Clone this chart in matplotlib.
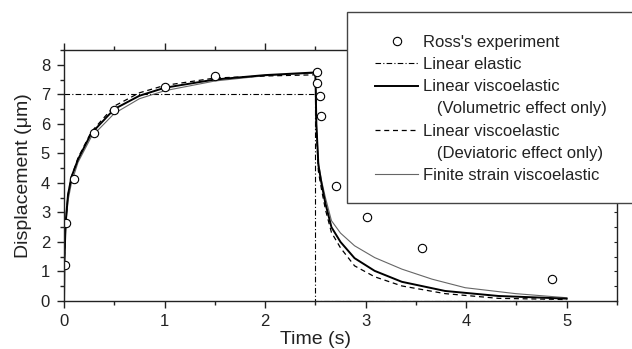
import matplotlib
matplotlib.use("Agg")
import matplotlib.pyplot as plt
from matplotlib.lines import Line2D
from matplotlib.patches import Rectangle
from matplotlib.ticker import MultipleLocator

plt.rcParams['font.family'] = ['Liberation Sans', 'DejaVu Sans']

# Ross's experiment
exp_t = [0.014, 0.02, 0.097, 0.297, 0.50, 1.0, 1.5, 2.52, 2.52, 2.55, 2.56, 2.71, 3.01, 3.56, 4.85]
exp_d = [1.21, 2.63, 4.14, 5.68, 6.46, 7.26, 7.63, 7.77, 7.37, 6.94, 6.26, 3.88, 2.83, 1.79, 0.76]

# Linear elastic
le_t = [0.0, 2.5, 2.5, 5.0]
le_d = [7.0, 7.0, 0.0, 0.0]

# Linear viscoelastic (volumetric effect only)
vol_t = [0.0, 0.005, 0.017, 0.04, 0.074, 0.14, 0.27, 0.5, 0.75, 1.0, 1.5, 2.0, 2.5,
         2.51, 2.53, 2.56, 2.6, 2.66, 2.75, 2.89, 3.09, 3.36, 3.79, 4.32, 5.0]
vol_d = [0.0, 1.5, 2.7, 3.6, 4.2, 4.8, 5.67, 6.5, 6.95, 7.22, 7.5, 7.65, 7.74,
         6.0, 4.6, 4.0, 3.3, 2.5, 2.0, 1.45, 1.02, 0.65, 0.34, 0.17, 0.08]

# Linear viscoelastic (deviatoric effect only)
dev_t = [0.0, 0.005, 0.017, 0.04, 0.074, 0.14, 0.27, 0.5, 0.75, 1.0, 1.5, 2.0, 2.5,
         2.51, 2.53, 2.56, 2.6, 2.66, 2.75, 2.89, 3.09, 3.36, 3.79, 4.32, 5.0]
dev_d = [0.0, 1.5, 2.7, 3.6, 4.2, 4.85, 5.72, 6.6, 7.05, 7.3, 7.55, 7.62, 7.66,
         5.8, 4.4, 3.8, 3.1, 2.32, 1.8, 1.19, 0.82, 0.51, 0.25, 0.09, 0.05]

# Finite strain viscoelastic
fs_t = [0.0, 0.005, 0.017, 0.04, 0.074, 0.14, 0.27, 0.5, 0.75, 1.0, 1.5, 2.0, 2.5,
        2.51, 2.53, 2.56, 2.6, 2.66, 2.75, 2.89, 3.09, 3.36, 3.66, 3.99, 4.49, 5.0]
fs_d = [0.0, 1.3, 2.5, 3.4, 4.0, 4.7, 5.55, 6.35, 6.85, 7.12, 7.45, 7.63, 7.72,
        6.0, 4.7, 4.1, 3.5, 2.72, 2.3, 1.87, 1.47, 1.08, 0.74, 0.45, 0.25, 0.11]

labels = ["Ross's experiment", "Linear elastic", "Linear viscoelastic",
          "   (Volumetric effect only)", "Linear viscoelastic",
          "   (Deviatoric effect only)", "Finite strain viscoelastic"]

fig = plt.figure(figsize=(6.32, 3.49), dpi=100)
ax = fig.add_axes([64/632, 1-301/349, 553/632, 251/349])

ec = '#222222'
ax.plot(le_t, le_d, color='black', lw=0.8, linestyle=(0, (5, 2, 1, 2)))
ax.plot(fs_t, fs_d, color='#666666', lw=0.8)
ax.plot(dev_t, dev_d, color='black', lw=0.9, linestyle=(0, (4, 3)))
ax.plot(vol_t, vol_d, color='black', lw=1.4)
ax.plot(exp_t, exp_d, linestyle='none', marker='o', markersize=6,
        markerfacecolor='white', markeredgecolor='black', markeredgewidth=0.8)

ax.set_xlim(0, 5.5)
ax.set_ylim(0, 8.5)
ax.xaxis.set_major_locator(MultipleLocator(1))
ax.xaxis.set_minor_locator(MultipleLocator(0.5))
ax.yaxis.set_major_locator(MultipleLocator(1))
ax.yaxis.set_minor_locator(MultipleLocator(0.5))
ax.set_xticks([0, 1, 2, 3, 4, 5])
ax.set_yticks(range(0, 9))

ax.tick_params(axis='both', which='major', direction='out', length=5, width=1,
               colors=ec, labelsize=12, top=True, right=False)
ax.tick_params(axis='both', which='minor', direction='out', length=3, width=1,
               colors=ec, top=True, right=False)
ax.tick_params(axis='x', which='both', labeltop=False)
ax.tick_params(axis='x', which='major', pad=4)
ax.tick_params(axis='y', which='major', pad=5)
for s in ax.spines.values():
    s.set_color(ec)
    s.set_linewidth(1.0)

# inner small ticks on right spine
sec = ax.secondary_yaxis('right')
sec.set_yticks([i * 0.5 for i in range(17)])
sec.tick_params(direction='in', length=2, width=0.8, colors=ec, labelright=False)
sec.spines['right'].set_visible(False)

ax.set_xlabel('Time (s)', fontsize=14, color=ec)
ax.xaxis.set_label_coords((316 - 64) / 553, -0.12)
ax.set_ylabel('Displacement (\u03bcm)', fontsize=14, color=ec, labelpad=6)

# legend frame
rect = Rectangle((347/632, 1-203/349), 0.5, 191/349, transform=fig.transFigure,
                 facecolor='white', edgecolor='#444444', lw=1.0, clip_on=False, zorder=5)
fig.patches.append(rect)

handles = [
    Line2D([], [], linestyle='none', marker='o', markersize=6, markerfacecolor='white',
           markeredgecolor='black', markeredgewidth=0.8),
    Line2D([], [], color='black', lw=0.8, linestyle=(0, (5, 2, 1, 2))),
    Line2D([], [], color='black', lw=1.4),
    Line2D([], [], linestyle='none'),
    Line2D([], [], color='black', lw=0.9, linestyle=(0, (4, 3))),
    Line2D([], [], linestyle='none'),
    Line2D([], [], color='#666666', lw=0.8),
]
leg = fig.legend(handles, labels, loc='upper left', bbox_to_anchor=(375/632, 1-35/349),
                 frameon=False, fontsize=12, handlelength=2.6, handletextpad=0.3,
                 labelspacing=0.43, borderpad=0, borderaxespad=0)
leg.set_zorder(6)
for t in leg.get_texts():
    t.set_color(ec)

fig.savefig('out.png', dpi=100)
